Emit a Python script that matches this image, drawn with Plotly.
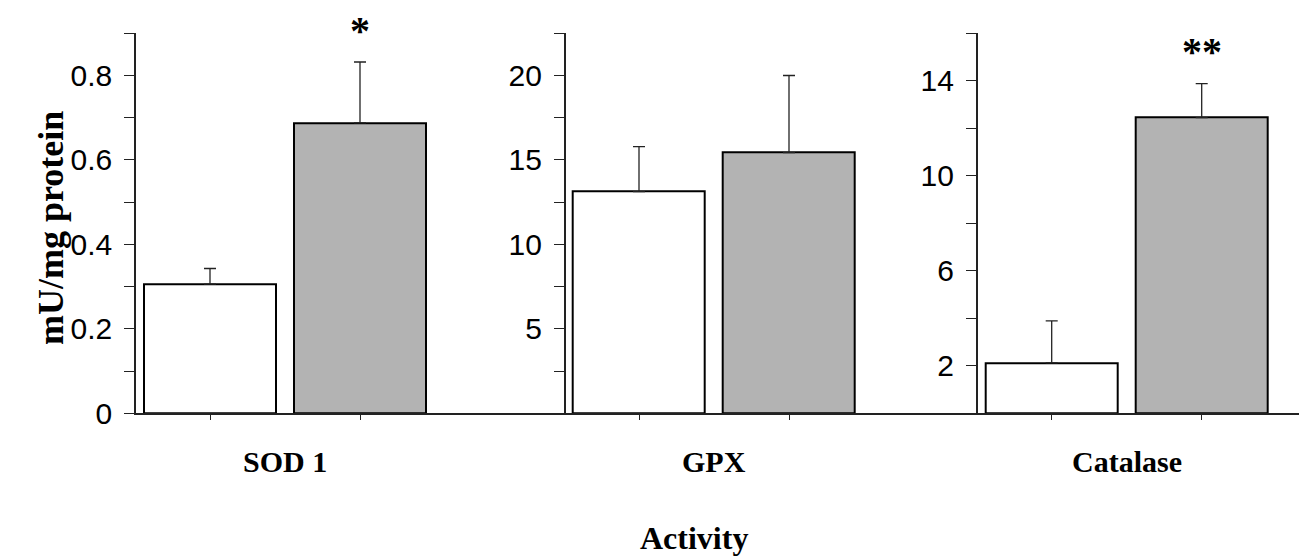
import plotly.graph_objects as go

# ---- data ----
categories = ["SOD 1", "GPX", "Catalase"]
groups = ["Control", "Treated"]
control_mean = [0.306, 13.12, 2.12]
control_err = [0.037, 2.67, 1.77]
treated_mean = [0.688, 15.43, 12.45]
treated_err = [0.144, 4.57, 1.43]
significance = ["*", "", "**"]

y_max = [0.9, 22.5, 16]
tick_vals = [
    [0, 0.1, 0.2, 0.3, 0.4, 0.5, 0.6, 0.7, 0.8, 0.9],
    [0, 2.5, 5, 7.5, 10, 12.5, 15, 17.5, 20, 22.5],
    [0, 2, 4, 6, 8, 10, 12, 14, 16],
]
tick_text = [
    ["0", "", "0.2", "", "0.4", "", "0.6", "", "0.8", ""],
    ["", "", "5", "", "10", "", "15", "", "20", ""],
    ["", "2", "", "6", "", "10", "", "14", ""],
]
y_title = "mU/mg protein"
x_title = "Activity"

# ---- layout geometry (pixels) ----
W, H = 1299, 558
axis_px = [136, 565.7, 977.7]
right_px = [565.7, 977.7, 1299]
first_center_px = [210, 639, 1051.7]
unit_px = 150
plot_top_px, plot_bot_px = 33.3, 413.3

fig = go.Figure()
line_col = "#222222"
serif = "Liberation Serif, Times New Roman, serif"
sans = "Liberation Sans, Arial, sans-serif"

for i, cat in enumerate(categories):
    sfx = "" if i == 0 else str(i + 1)
    fig.add_trace(go.Bar(
        x=groups, y=[control_mean[i], treated_mean[i]],
        marker=dict(color=["white", "#b3b3b3"], line=dict(color="black", width=2)),
        width=0.88,
        error_y=dict(type="data", symmetric=False,
                     array=[control_err[i], treated_err[i]],
                     arrayminus=[0, 0], color=line_col, thickness=1.3, width=6),
        xaxis="x" + sfx, yaxis="y" + sfx, showlegend=False,
    ))
    lo = -(first_center_px[i] - axis_px[i]) / unit_px
    hi = lo + (right_px[i] - axis_px[i]) / unit_px
    fig.layout["xaxis" + sfx] = dict(
        domain=[axis_px[i] / W, right_px[i] / W], range=[lo, hi],
        anchor="y" + sfx, showline=True, linecolor=line_col, linewidth=1.5,
        ticks="outside", ticklen=5, tickwidth=1.3, tickcolor=line_col,
        showticklabels=False, showgrid=False, zeroline=False, fixedrange=True,
    )
    fig.layout["yaxis" + sfx] = dict(
        domain=[(H - plot_bot_px) / H, (H - plot_top_px) / H], range=[0, y_max[i]],
        anchor="x" + sfx, showline=True, linecolor=line_col, linewidth=1.5,
        ticks="outside", ticklen=10, tickwidth=1.3, tickcolor=line_col,
        tickmode="array", tickvals=tick_vals[i], ticktext=tick_text[i],
        tickfont=dict(family=sans, size=30, color="black"), ticklabelstandoff=6,
        showgrid=False, zeroline=False, fixedrange=True,
    )
    # category label
    fig.add_annotation(text="<b>%s</b>" % cat, x=0.5, xref="x" + sfx,
                       y=(H - 462) / H, yref="paper", yanchor="middle",
                       showarrow=False, font=dict(family=serif, size=30, color="black"))
    if significance[i]:
        fig.add_annotation(text="<b>%s</b>" % significance[i], x=1, xref="x" + sfx,
                           y=treated_mean[i] + treated_err[i], yref="y" + sfx,
                           yanchor="middle", yshift=32,
                           showarrow=False, font=dict(family=serif, size=40, color="black"))

fig.add_annotation(text="<b>%s</b>" % y_title, x=29 / W, xref="paper",
                   y=(H - 228) / H, yref="paper", textangle=-90,
                   showarrow=False, font=dict(family=serif, size=36, color="black"))
fig.add_annotation(text="<b>%s</b>" % x_title, x=694 / W, xref="paper",
                   y=(H - 538) / H, yref="paper", yanchor="middle",
                   showarrow=False, font=dict(family=serif, size=32, color="black"))

fig.update_layout(width=W, height=H,
                  margin=dict(l=0, r=0, t=0, b=0, autoexpand=False),
                  plot_bgcolor="white", paper_bgcolor="white", bargap=0)
fig.write_html(
    "out.html",
    config={"displayModeBar": False},
    post_script="document.body.style.margin='0';document.body.style.overflow='hidden';",
)
